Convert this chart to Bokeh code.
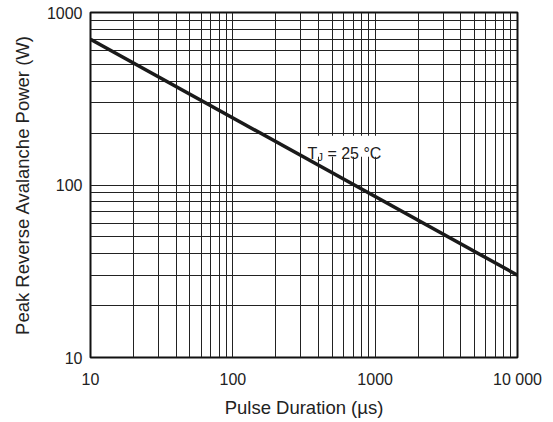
from bokeh.plotting import figure
from bokeh.models import FixedTicker, Label, BoxAnnotation
from bokeh.embed import file_html
from bokeh.resources import INLINE

# data
pulse_us = [10, 10000]
power_w = [700, 30]
x_major = [10, 100, 1000, 10000]
x_labels = {10: "10", 100: "100", 1000: "1000", 10000: "10 000"}
y_major = [10, 100, 1000]
y_labels = {10: "10", 100: "100", 1000: "1000"}

def minors(decades):
    out = []
    for d in decades:
        out += [d * k for k in range(2, 10)]
    return out

FONT = "Liberation Sans"
TXT = "#222222"

p = figure(width=547, height=420, x_axis_type="log", y_axis_type="log",
           x_range=(10, 10000), y_range=(10, 1000),
           output_backend="svg", toolbar_location=None,
           min_border_left=90, min_border_right=30, min_border_top=12, min_border_bottom=51)

p.xaxis.ticker = FixedTicker(ticks=x_major, minor_ticks=minors([10, 100, 1000]))
p.yaxis.ticker = FixedTicker(ticks=y_major, minor_ticks=minors([10, 100]))
p.xaxis.major_label_overrides = x_labels
p.yaxis.major_label_overrides = y_labels

for ax in (p.xaxis, p.yaxis):
    ax.major_tick_line_color = None
    ax.minor_tick_line_color = None
    ax.axis_line_color = None
    ax.major_label_text_font = FONT
    ax.major_label_text_font_size = "16px"
    ax.major_label_text_color = TXT
    ax.axis_label_text_font = FONT
    ax.axis_label_text_font_size = "18.5px"
    ax.axis_label_text_font_style = "normal"
    ax.axis_label_text_color = TXT
p.yaxis.major_label_standoff = 2
p.yaxis.axis_label_standoff = 11
p.xaxis.major_label_standoff = 7
p.xaxis.axis_label_standoff = 6

p.xaxis.axis_label = "Pulse Duration (µs)"
p.yaxis.axis_label = "Peak Reverse Avalanche Power (W)"

for g in (p.xgrid, p.ygrid):
    g.grid_line_color = "#222222"
    g.grid_line_width = 1
    g.grid_line_alpha = 1
    g.minor_grid_line_color = "#222222"
    g.minor_grid_line_width = 1

p.outline_line_color = "#111111"
p.outline_line_width = 2
p.background_fill_color = "white"
p.border_fill_color = "white"

# annotation background box (under the curve, over the grid)
p.add_layout(BoxAnnotation(left=324, right=1242, bottom=146, top=193,
                           fill_color="white", fill_alpha=1, line_color=None, level="underlay"))

p.line(pulse_us, power_w, line_color="#1a1a1a", line_width=3.5)

p.add_layout(Label(x=334, y=153, text="T", text_font=FONT, text_font_size="16px",
                   text_color=TXT, text_baseline="alphabetic"))
p.add_layout(Label(x=334, y=153, x_offset=10, y_offset=-4, text="J", text_font=FONT,
                   text_font_size="11px", text_color=TXT, text_baseline="alphabetic"))
p.add_layout(Label(x=334, y=153, x_offset=20, text="= 25 °C", text_font=FONT,
                   text_font_size="16px", text_color=TXT, text_baseline="alphabetic"))

open("out.html", "w").write(file_html(p, INLINE))
